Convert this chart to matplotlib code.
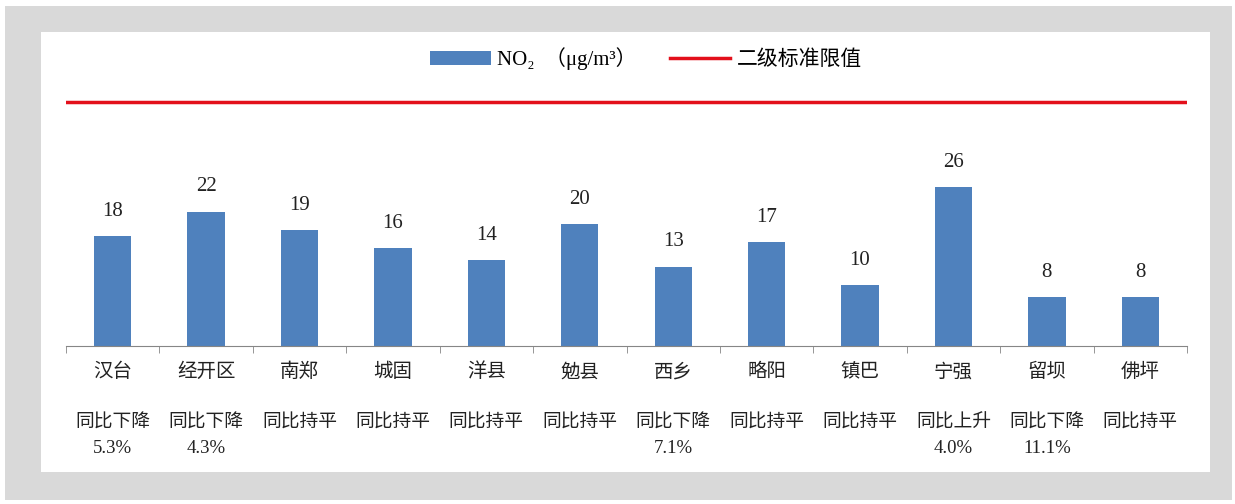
import numpy as np
import matplotlib.pyplot as plt
from matplotlib.patches import Rectangle

# donnees
categories = ['汉台', '经开区', '南郑', '城固', '洋县', '勉县', '西乡', '略阳', '镇巴', '宁强', '留坝', '佛坪']
no2 = [18, 22, 19, 16, 14, 20, 13, 17, 10, 26, 8, 8]
tendance = ['同比下降', '同比下降', '同比持平', '同比持平', '同比持平', '同比持平',
            '同比下降', '同比持平', '同比持平', '同比上升', '同比下降', '同比持平']
variation = ['5.3%', '4.3%', '', '', '', '', '7.1%', '', '', '4.0%', '11.1%', '']
limite = 40

plt.rcParams['font.family'] = ['Noto Sans CJK SC', 'DejaVu Sans']
serif = ['Liberation Serif', 'Noto Sans CJK SC', 'DejaVu Sans']

fig = plt.figure(figsize=(12.35, 5.04), dpi=100)
fig.patch.set_facecolor('white')
# cadre gris et panneau blanc
fig.patches.append(Rectangle((5 / 1235, 4 / 504), 1227 / 1235, 494 / 504,
                             transform=fig.transFigure, facecolor='#d9d9d9', edgecolor='none', zorder=-10))
fig.patches.append(Rectangle((41 / 1235, 32 / 504), 1169 / 1235, 440 / 504,
                             transform=fig.transFigure, facecolor='white', edgecolor='none', zorder=-9))

ax = fig.add_axes([66 / 1235, (504 - 346) / 504, 1121 / 1235, 275 / 504])
ax.set_facecolor('none')
x = np.arange(len(categories))

barres = ax.bar(x, no2, width=0.4, color='#4f81bd', zorder=2)
ligne = ax.axhline(limite, color='#e3101b', lw=2.5, zorder=3)

for xi, v in zip(x, no2):
    ax.annotate(str(v), (xi, v), xytext=(0, 11), textcoords='offset points',
                ha='center', va='bottom', fontsize=15, family=serif, color='#222222')

ax.set_xlim(-0.5, len(categories) - 0.5)
ax.set_ylim(0, 45)
ax.set_yticks([])
for s in ['top', 'right', 'left']:
    ax.spines[s].set_visible(False)
ax.spines['bottom'].set_color('#868686')

ax.set_xticks(x)
ax.set_xticklabels(categories, fontsize=14, color='#222222')
ax.tick_params(axis='x', which='major', length=0, pad=11)
ax.set_xticks(np.arange(-0.5, len(categories), 1), minor=True)
ax.tick_params(axis='x', which='minor', length=5, color='#868686')

for xi, t, p in zip(x, tendance, variation):
    ax.annotate(t, (xi, 0), xycoords=('data', 'axes fraction'), xytext=(0, -55),
                textcoords='offset points', ha='center', va='center', fontsize=13.5, color='#222222')
    if p:
        ax.annotate(p, (xi, 0), xycoords=('data', 'axes fraction'), xytext=(0, -73.5),
                    textcoords='offset points', ha='center', va='center', fontsize=13.5,
                    family=serif, color='#222222')

leg = fig.legend([barres, ligne], ['NO₂  （μg/m³）', '二级标准限值'], ncol=2, frameon=False,
                 loc='center', bbox_to_anchor=(646 / 1235, (504 - 59) / 504),
                 fontsize=15, handlelength=2.9, handleheight=0.6, columnspacing=1.6, handletextpad=0.3)
leg.get_texts()[0].set_family(serif)

fig.savefig('out.png', dpi=100)
